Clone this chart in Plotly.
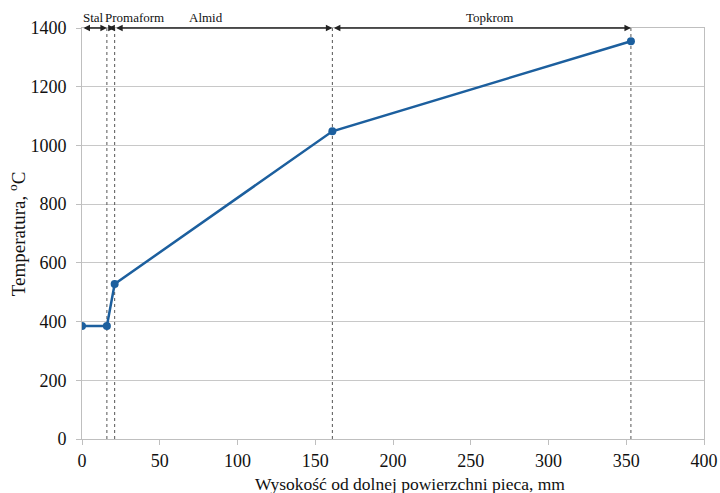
import plotly.graph_objects as go

# Data
height_mm = [0, 16, 21, 161, 353]
temperature_c = [385, 385, 528, 1048, 1355]
zone_names = ["Stal", "Promaform", "Almid", "Topkrom"]
zone_bounds = [0, 16, 21, 161, 353]
x_ticks = [0, 50, 100, 150, 200, 250, 300, 350, 400]
y_ticks = [0, 200, 400, 600, 800, 1000, 1200, 1400]
label_x = [7.5, 34, 80, 262]
x_title = "Wysokość od dolnej powierzchni pieca, mm"
y_title = "Temperatura, <sup>o</sup>C"

FONT = "Liberation Serif, Times New Roman, serif"
LINE_COLOR = "#1c5f9e"

fig = go.Figure()

# dotted vertical boundary lines
for xb in zone_bounds[1:]:
    fig.add_trace(go.Scatter(x=[xb, xb], y=[0, 1400], mode="lines",
                             line=dict(color="#555555", width=1, dash="dot"),
                             hoverinfo="skip", showlegend=False))

fig.add_trace(go.Scatter(x=height_mm, y=temperature_c, mode="lines+markers",
                         line=dict(color=LINE_COLOR, width=2.5),
                         marker=dict(color=LINE_COLOR, size=8),
                         showlegend=False))

annotations = []
for i, name in enumerate(zone_names):
    x0, x1 = zone_bounds[i], zone_bounds[i + 1]
    annotations.append(dict(x=x1, y=1400, ax=x0, ay=1400, xref="x", yref="y",
                            axref="x", ayref="y", text="", showarrow=True,
                            arrowhead=2, arrowside="end+start", arrowsize=1,
                            arrowwidth=1.3, arrowcolor="#222222", standoff=0,
                            startstandoff=0))
    annotations.append(dict(x=label_x[i], y=1400, xref="x", yref="y",
                            text=name, showarrow=False, yshift=11,
                            font=dict(family=FONT, size=13, color="#111111")))

annotations.append(dict(x=0.527, y=0, xref="paper", yref="paper", text=x_title,
                        showarrow=False, xanchor="center", yanchor="top",
                        yshift=-33, font=dict(family=FONT, size=17.5, color="#111111")))
annotations.append(dict(x=-0.105, y=0.5, xref="paper", yref="paper", text=y_title,
                        showarrow=False, xanchor="center", yanchor="middle",
                        textangle=-90, font=dict(family=FONT, size=19, color="#111111")))

fig.update_layout(
    width=720, height=493,
    margin=dict(l=82, r=16, t=28, b=54),
    paper_bgcolor="white", plot_bgcolor="white",
    font=dict(family=FONT, size=18, color="#111111"),
    annotations=annotations,
    xaxis=dict(range=[0, 400], tickvals=x_ticks, showgrid=False,
               showline=True, linecolor="#bfbfbf", linewidth=1, mirror=True,
               ticks="outside", tickcolor="#bfbfbf", ticklen=5,
               zeroline=False, automargin=False),
    yaxis=dict(range=[0, 1400], tickvals=y_ticks, showgrid=True,
               gridcolor="#c8c8c8", gridwidth=1, showline=True,
               linecolor="#bfbfbf", mirror=True, zeroline=False,
               ticks="outside", tickcolor="rgba(255,255,255,0)", ticklen=11,
               minor=dict(tickvals=y_ticks, ticks="outside", ticklen=5,
                          tickcolor="#bfbfbf", showgrid=False),
               automargin=False),
)

fig.write_html("out.html", config={"displayModeBar": False},
               post_script="document.body.style.margin='0';document.body.style.overflow='hidden';")
